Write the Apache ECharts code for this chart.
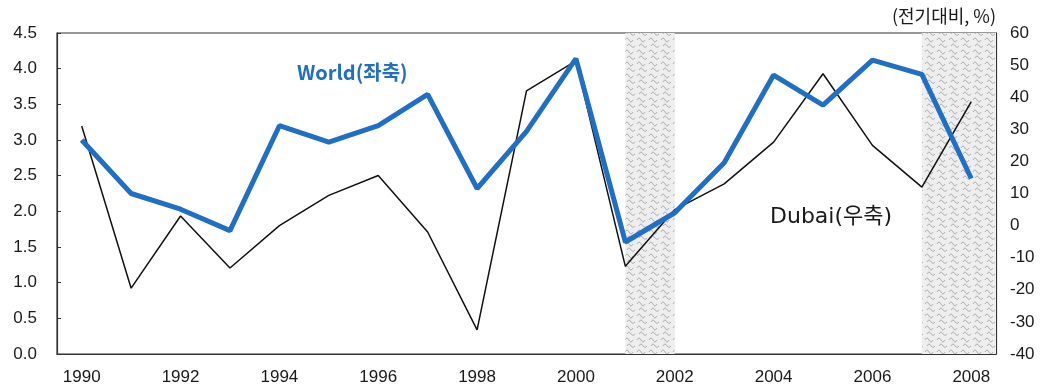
<!DOCTYPE html>
<html>
<head>
<meta charset="utf-8">
<script src="https://cdn.jsdelivr.net/npm/echarts@6/dist/echarts.min.js"></script>
<style>
  html, body { margin: 0; padding: 0; background: #fff; }
  #chart { width: 1042px; height: 387px; }
</style>
</head>
<body>
<div id="chart"></div>
<script>
// Years on the category axis
const years = ['1990','1991','1992','1993','1994','1995','1996','1997','1998','1999',
               '2000','2001','2002','2003','2004','2005','2006','2007','2008'];

// World (left axis)
const worldValues = [3.0, 2.25, 2.03, 1.73, 3.2, 2.97, 3.2, 3.64, 2.32, 3.12,
                     4.14, 1.57, 1.98, 2.68, 3.91, 3.49, 4.12, 3.92, 2.46];

// Dubai (right axis, % change)
const dubaiValues = [31, -19.5, 3, -13.2, 0, 9.4, 15.6, -2, -32.5, 42,
                     51.3, -12.7, 5, 13, 26, 47.3, 25, 12, 38.6];

// Shaded periods (year spans)
const shadedSpans = [[2001, 2002], [2007, 2008.5]];

// Axis ranges
const leftAxis = { min: 0, max: 4.5, interval: 0.5 };
const rightAxis = { min: -40, max: 60, interval: 10 };

// Speckled fill for shaded periods
function makePattern() {
  const c = document.createElement('canvas');
  c.width = 12; c.height = 12;
  const g = c.getContext('2d');
  g.fillStyle = '#eeeeee';
  g.fillRect(0, 0, 12, 12);
  g.strokeStyle = '#b0b0b0';
  g.lineWidth = 1;
  g.beginPath();
  g.moveTo(1, 4); g.quadraticCurveTo(3, 0, 5, 4); g.quadraticCurveTo(7, 8, 9, 4);
  g.moveTo(3, 10); g.quadraticCurveTo(5, 6, 7, 10); g.quadraticCurveTo(9, 13, 11, 10);
  g.stroke();
  return c;
}

const chart = echarts.init(document.getElementById('chart'));
const font = "'Liberation Sans', Arial, sans-serif";
const krFont = "'Noto Sans CJK KR', sans-serif";

chart.setOption({
  animation: false,
  backgroundColor: '#ffffff',
  grid: { left: 57, right: 46, top: 33, bottom: 33, show: true, borderColor: '#333', borderWidth: 1.2 },
  xAxis: [
    {
      type: 'category',
      data: years,
      boundaryGap: true,
      axisLine: { lineStyle: { color: '#333', width: 1.2 } },
      axisTick: { show: false },
      axisLabel: { interval: 1, color: '#1a1a1a', fontSize: 17, fontFamily: font, margin: 15 }
    },
    {
      type: 'value',
      min: 1989.5, max: 2008.5,
      show: false
    }
  ],
  yAxis: [
    {
      type: 'value',
      min: leftAxis.min, max: leftAxis.max, interval: leftAxis.interval,
      axisLine: { show: true, lineStyle: { color: '#333', width: 1.2 } },
      axisTick: { show: true, inside: true, length: 4, lineStyle: { color: '#333' } },
      splitLine: { show: false },
      axisLabel: { color: '#1a1a1a', fontSize: 17, fontFamily: font, margin: 20,
                   formatter: v => v.toFixed(1) }
    },
    {
      type: 'value',
      min: rightAxis.min, max: rightAxis.max, interval: rightAxis.interval,
      position: 'right',
      name: '(전기대비, %)',
      nameLocation: 'end',
      nameGap: 8,
      nameTextStyle: { color: '#1a1a1a', fontSize: 18, fontFamily: krFont,
                       align: 'right', padding: [0, 0, 0, 0] },
      axisLine: { show: true, lineStyle: { color: '#333', width: 1.2 } },
      axisTick: { show: true, inside: true, length: 4, lineStyle: { color: '#333' } },
      splitLine: { show: false },
      axisLabel: { color: '#1a1a1a', fontSize: 17, fontFamily: font, margin: 14 }
    }
  ],
  series: [
    {
      name: 'shade',
      type: 'line',
      xAxisIndex: 1,
      yAxisIndex: 0,
      data: [],
      silent: true,
      markArea: {
        silent: true,
        itemStyle: { color: { image: makePattern(), repeat: 'repeat' }, opacity: 1 },
        data: shadedSpans.map(s => [{ xAxis: s[0] }, { xAxis: s[1] }])
      }
    },
    {
      name: 'Dubai',
      type: 'line',
      yAxisIndex: 1,
      data: dubaiValues,
      symbol: 'none',
      lineStyle: { color: '#111', width: 1.5 },
      z: 3
    },
    {
      name: 'World',
      type: 'line',
      yAxisIndex: 0,
      data: worldValues,
      symbol: 'none',
      lineStyle: { color: '#1f6fc6', width: 5 },
      z: 4
    }
  ],
  graphic: [
    {
      type: 'text', left: 297, top: 62,
      style: { text: 'World(좌축)', fill: '#1f6fc6', fontSize: 20, fontWeight: 'bold',
               fontFamily: krFont }
    },
    {
      type: 'text', left: 770, top: 206,
      style: { text: 'Dubai(우축)', fill: '#1a1a1a', fontSize: 22,
               fontFamily: "'DejaVu Sans', 'Noto Sans CJK KR', sans-serif" }
    }
  ]
});
</script>
</body>
</html>
